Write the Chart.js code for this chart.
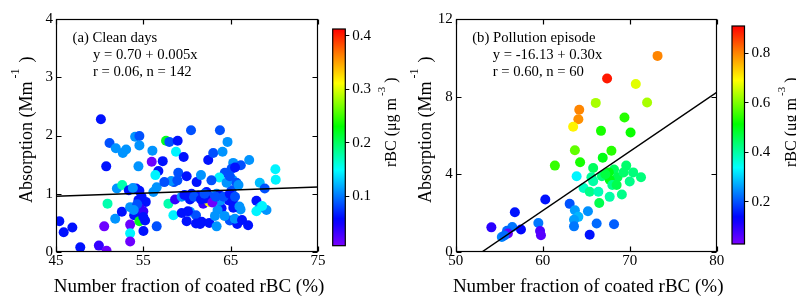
<!DOCTYPE html>
<html><head><meta charset="utf-8">
<script src="https://cdn.jsdelivr.net/npm/chart.js@4.4.1/dist/chart.umd.min.js"></script>
<style>
html,body{margin:0;padding:0;background:#fff;}
#wrap{position:relative;width:796px;height:297px;overflow:hidden;background:#fff;}
canvas{position:absolute;top:0;}
</style></head><body>
<div id="wrap">
<canvas id="ca" width="330" height="297" style="left:0px"></canvas>
<canvas id="cba" width="70" height="297" style="left:330px"></canvas>
<canvas id="cb" width="330" height="297" style="left:400px"></canvas>
<canvas id="cbb" width="66" height="297" style="left:730px"></canvas>
</div>
<script>
// ---------- DATA ----------
// Panel (a) Clean days
const aX = [50.14,51.13,50.75,51.85,52.65,53.03,54.06,54.55,54.55,54.44,45.38,45.88,46.87,47.78,49.91,50.79,50.52,50.9,51.97,52.58,51.78,52.54,53.34,53.49,54.17,54.55,54.44,55.28,54.55,53.95,54.82,53.49,54.55,55.2,53.49,53.49,55.01,56.53,56.04,55.96,57.22,56.72,56.38,56.53,56.15,57.6,57.98,58.93,58.74,59.62,59.0,58.5,58.2,57.87,58.63,58.44,59.39,59.39,59.96,60.46,60.53,60.34,60.34,61.1,61.6,61.03,61.03,61.86,62.24,62.43,63.0,63.77,64.07,64.64,62.55,63.0,63.39,63.96,61.68,62.55,63.39,64.9,65.75,67.0,65.29,66.16,67.12,65.1,64.33,65.21,65.67,63.69,65.1,64.72,65.29,66.13,65.48,67.95,68.33,68.9,68.33,67.95,69.1,70.12,70.16,64.53,61.3,62.6,63.7,63.8,65.3,63.5,60.1,61.5,68.6,59.96,53.8,58.9,55.0,60.8,61.6,62.1,62.9,63.3,64.2,64.9,65.5,65.9,64.9,65.5,54.8,54.3,55.0,53.9,62.0,63.2,64.3,66.3,59.7,57.4,62.8,66.0];
const aY = [2.28,1.87,1.47,1.78,1.70,1.76,1.98,1.99,1.83,1.47,0.53,0.34,0.42,0.08,0.11,0.02,0.44,0.83,1.09,1.15,0.57,0.69,1.06,0.77,1.09,1.05,0.89,0.86,0.76,0.63,0.66,0.47,0.53,0.54,0.32,0.18,0.36,0.44,1.74,1.55,1.56,1.39,1.32,1.11,1.03,1.91,1.89,1.91,1.72,1.63,1.36,1.20,1.22,0.83,0.90,0.63,0.95,0.67,1.30,2.09,1.00,0.90,0.69,1.20,1.32,0.63,0.49,0.83,1.03,1.58,1.70,2.09,1.72,1.89,0.86,0.92,1.00,0.75,0.52,0.50,0.44,0.54,0.48,0.46,1.53,1.49,1.58,1.43,1.36,1.24,1.19,1.28,1.06,0.89,0.83,0.73,0.57,0.88,1.19,1.09,0.76,0.70,0.72,1.42,1.24,1.19,0.97,0.95,0.98,0.88,0.76,0.72,0.70,0.48,0.79,0.53,1.10,1.23,0.70,0.95,0.90,0.92,0.85,0.95,0.95,1.00,0.95,1.15,1.30,1.45,0.95,0.82,0.60,0.72,1.00,0.62,0.62,0.55,0.98,1.20,1.23,0.78];
const aBC = [0.062,0.085,0.062,0.11,0.11,0.11,0.11,0.085,0.11,0.11,0.062,0.062,0.062,0.062,0.035,0.012,0.012,0.175,0.11,0.175,0.11,0.062,0.062,0.11,0.062,0.062,0.062,0.062,0.035,0.062,0.062,0.012,0.22,0.062,0.145,0.012,0.062,0.085,0.11,0.012,0.062,0.062,0.145,0.11,0.11,0.22,0.085,0.062,0.145,0.062,0.085,0.085,0.11,0.175,0.035,0.145,0.11,0.062,0.062,0.085,0.062,0.062,0.11,0.062,0.11,0.085,0.062,0.035,0.062,0.062,0.085,0.085,0.11,0.11,0.31,0.035,0.11,0.062,0.062,0.062,0.11,0.085,0.062,0.062,0.11,0.085,0.11,0.085,0.085,0.11,0.085,0.145,0.085,0.062,0.062,0.11,0.11,0.062,0.125,0.085,0.11,0.145,0.11,0.145,0.145,0.11,0.062,0.085,0.062,0.11,0.062,0.11,0.062,0.062,0.145,0.062,0.11,0.085,0.035,0.085,0.062,0.062,0.012,0.085,0.085,0.062,0.085,0.11,0.085,0.062,0.062,0.085,0.062,0.11,0.085,0.11,0.11,0.062,0.062,0.085,0.085,0.11];
const aLineX = [45, 75];
const aLineY = [0.955, 1.115];
const aXTicks = [45, 55, 65, 75];
const aYTicks = [0, 1, 2, 3, 4];
const aCbTicks = [0.1, 0.2, 0.3, 0.4];
const aCbRange = [0.007, 0.413];
const aTexts = ["(a) Clean days", "y = 0.70 + 0.005x", "r = 0.06, n = 142"];

// Panel (b) Pollution episode
const bX = [73.2,67.4,70.7,66.1,72.0,64.2,64.1,63.5,69.4,66.7,70.1,63.7,67.9,66.9,64.3,61.4,65.8,69.6,68.2,63.9,65.6,66.8,67.6,68.6,70.4,71.3,70.0,69.3,67.7,68.0,68.5,64.7,65.4,66.4,69.1,67.7,66.5,60.3,63.1,63.7,65.2,64.1,63.6,63.6,66.2,68.2,65.4,56.8,59.5,54.1,56.5,57.5,55.9,55.3,56.0,59.7,59.8,55.6,67.2,65.8];
const bY = [10.1,8.94,8.65,7.68,7.70,7.33,6.84,6.45,6.93,6.24,6.15,5.24,5.21,4.85,4.62,4.45,4.33,4.45,4.25,3.90,3.85,3.90,4.10,3.85,4.10,3.85,3.63,4.10,3.72,3.45,3.45,3.30,3.10,3.10,2.96,2.84,2.52,2.70,2.48,2.15,2.10,1.81,1.66,1.32,1.47,1.43,0.89,2.05,1.49,1.27,1.29,1.16,1.09,0.77,0.95,1.08,0.86,0.85,4.00,3.65];
const bBC = [0.80,0.89,0.67,0.63,0.63,0.80,0.79,0.70,0.54,0.53,0.52,0.58,0.54,0.50,0.53,0.55,0.45,0.44,0.45,0.33,0.41,0.43,0.50,0.46,0.43,0.43,0.42,0.44,0.50,0.42,0.46,0.38,0.42,0.39,0.42,0.40,0.46,0.15,0.20,0.26,0.25,0.28,0.26,0.23,0.22,0.21,0.15,0.15,0.23,0.10,0.23,0.14,0.22,0.24,0.05,0.07,0.06,0.22,0.47,0.40];
const bLineX = [53.0, 80];
const bLineY = [0, 8.22];
const bXTicks = [50, 60, 70, 80];
const bYTicks = [0, 4, 8, 12];
const bCbTicks = [0.2, 0.4, 0.6, 0.8];
const bCbRange = [0.03, 0.91];
const bTexts = ["(b) Pollution episode", "y = -16.13 + 0.30x", "r = 0.60, n = 60"];

const xTitle = "Number fraction of coated rBC (%)";
const yTitleParts = ["Absorption (Mm", "-1", ")"];
const cbTitleParts = ["rBC (\u03bcg m", "-3", ")"];

// ---------- STYLE ----------
const FONT = '"Liberation Serif", "Times New Roman", serif';
const cmapStops = [[0,[122,0,255]],[0.12,[0,0,255]],[0.35,[0,255,255]],[0.55,[0,255,0]],[0.75,[255,255,0]],[0.88,[255,128,0]],[1,[255,0,0]]];
function cmap(f){
  f = Math.max(0, Math.min(1, f));
  for (let i = 1; i < cmapStops.length; i++) {
    const [f1,c1] = cmapStops[i], [f0,c0] = cmapStops[i-1];
    if (f <= f1) {
      const t = (f - f0) / (f1 - f0);
      const c = c0.map((v,k)=>Math.round(v + (c1[k]-v)*t));
      return `rgb(${c[0]},${c[1]},${c[2]})`;
    }
  }
  return 'rgb(255,0,0)';
}

function drawRotTitle(ctx, bx, by, parts, size, supSize, raise, gap1, gap2){
  ctx.save();
  ctx.translate(bx, by);
  ctx.rotate(-Math.PI/2);
  ctx.fillStyle = '#000';
  ctx.textAlign = 'left';
  ctx.textBaseline = 'alphabetic';
  ctx.font = `${size}px ${FONT}`;
  ctx.fillText(parts[0], 0, 0);
  let x = ctx.measureText(parts[0]).width + gap1;
  ctx.font = `${supSize}px ${FONT}`;
  ctx.fillText(parts[1], x, -raise);
  x += ctx.measureText(parts[1]).width + gap2;
  ctx.font = `${size}px ${FONT}`;
  ctx.fillText(parts[2], x, 0);
  ctx.restore();
}

const framePlugin = {
  id: 'frame',
  afterDraw(chart, args, opts){
    const {ctx, chartArea:a, scales} = chart;
    const L = Math.round(a.left)+0.5, R = Math.round(a.right)-0.5, T = Math.round(a.top)+0.5, B = Math.round(a.bottom)-0.5;
    ctx.save();
    ctx.strokeStyle = '#000';
    ctx.lineWidth = 1.2;
    ctx.strokeRect(L, T, R-L, B-T);
    const tl = 5;
    ctx.beginPath();
    scales.x.ticks.forEach(t => {
      const p = Math.round(scales.x.getPixelForValue(t.value)) + 0.5;
      ctx.moveTo(p, B); ctx.lineTo(p, B - tl);
      ctx.moveTo(p, T); ctx.lineTo(p, T + tl);
    });
    scales.y.ticks.forEach(t => {
      const p = Math.round(scales.y.getPixelForValue(t.value)) + 0.5;
      ctx.moveTo(L, p); ctx.lineTo(L + tl, p);
      ctx.moveTo(R, p); ctx.lineTo(R - tl, p);
    });
    ctx.stroke();
    ctx.fillStyle = '#000';
    ctx.textAlign = 'left';
    ctx.textBaseline = 'alphabetic';
    ctx.font = `14.7px ${FONT}`;
    ctx.fillText(opts.texts[0], a.left + 16.5, 42);
    ctx.fillText(opts.texts[1], a.left + 37, 58.5);
    ctx.fillText(opts.texts[2], a.left + 37, 75.5);
    ctx.font = `19px ${FONT}`;
    ctx.textAlign = 'center';
    ctx.fillText(xTitle, (a.left + a.right)/2 + 2, 292);
    drawRotTitle(ctx, a.left - 24.3, 203, yTitleParts, 18, 12, 13, 3, 6);
    ctx.restore();
  }
};

function mainChart(id, X, Y, BC, range, lx, ly, xt, yt, left, padRight, texts){
  const pts = X.map((x,i)=>({x, y:Y[i]}));
  const cols = BC.map(v => cmap((v - range[0])/(range[1]-range[0])));
  const line = lx.map((x,i)=>({x, y:ly[i]}));
  const tickFont = {family: FONT, size: 15};
  return new Chart(document.getElementById(id), {
    type: 'scatter',
    data: {datasets: [
      {type:'line', data: line, borderColor:'#000', borderWidth:1.5, pointRadius:0, fill:false, tension:0, order:0},
      {data: pts, backgroundColor: cols, borderWidth:0, pointRadius:5, pointHoverRadius:5, order:1}
    ]},
    options: {
      responsive:false, animation:false, devicePixelRatio:1, events:[],
      layout:{padding:{left:0, top:19, right:padRight, bottom:0}},
      plugins:{legend:{display:false}, tooltip:{enabled:false}, frame:{texts}},
      scales:{
        x:{type:'linear', min:xt[0], max:xt[xt.length-1],
           grid:{display:false, drawTicks:false}, border:{display:false},
           ticks:{font:tickFont, color:'#000', padding:0, maxRotation:0},
           afterBuildTicks:s=>{s.ticks = xt.map(v=>({value:v}));},
           afterFit:s=>{s.height = 45;}},
        y:{type:'linear', min:yt[0], max:yt[yt.length-1],
           grid:{display:false, drawTicks:false}, border:{display:false},
           ticks:{font:tickFont, color:'#000', padding:3},
           afterBuildTicks:s=>{s.ticks = yt.map(v=>({value:v}));},
           afterFit:s=>{s.width = left;}}
      }
    },
    plugins:[framePlugin]
  });
}

const cbPlugin = {
  id: 'cbar',
  beforeDraw(chart){
    const {ctx, chartArea:a} = chart;
    const g = ctx.createLinearGradient(0, a.bottom, 0, a.top);
    for (let i = 0; i <= 40; i++) g.addColorStop(i/40, cmap(i/40));
    ctx.save();
    ctx.fillStyle = g;
    ctx.fillRect(a.left, a.top, a.right - a.left, a.bottom - a.top);
    ctx.restore();
  },
  afterDraw(chart){
    const {ctx, chartArea:a} = chart;
    ctx.save();
    ctx.strokeStyle = '#000';
    ctx.lineWidth = 1.2;
    ctx.strokeRect(a.left, a.top, a.right - a.left, a.bottom - a.top);
    drawRotTitle(ctx, a.right + 51, 167, cbTitleParts, 16, 11, 11, 2, 4);
    ctx.restore();
  }
};

function cbChart(id, range, ticks, padL, top, bottom, width){
  return new Chart(document.getElementById(id), {
    type:'scatter',
    data:{datasets:[]},
    options:{
      responsive:false, animation:false, devicePixelRatio:1, events:[],
      layout:{padding:{left:padL, top:top, right:0, bottom:297-bottom}},
      plugins:{legend:{display:false}, tooltip:{enabled:false}},
      scales:{
        x:{display:false, min:0, max:1},
        y:{type:'linear', position:'right', min:range[0], max:range[1],
           grid:{drawOnChartArea:false, drawTicks:true, tickLength:4, color:'#000', lineWidth:1},
           border:{display:false},
           ticks:{font:{family:FONT, size:15}, color:'#000', padding:3, callback:v=>Number(v).toFixed(1)},
           afterBuildTicks:s=>{s.ticks = ticks.map(v=>({value:v}));},
           afterFit:s=>{s.width = width;}}
      }
    },
    plugins:[cbPlugin]
  });
}

mainChart('ca', aX, aY, aBC, aCbRange, aLineX, aLineY, aXTicks, aYTicks, 56, 12, aTexts);
cbChart('cba', aCbRange, aCbTicks, 2.7, 29, 245.7, 70 - 15.3);
mainChart('cb', bX, bY, bBC, bCbRange, bLineX, bLineY, bXTicks, bYTicks, 55.7, 13.3, bTexts);
cbChart('cbb', bCbRange, bCbTicks, 2, 26, 244, 66 - 14.5);
</script>
</body></html>
